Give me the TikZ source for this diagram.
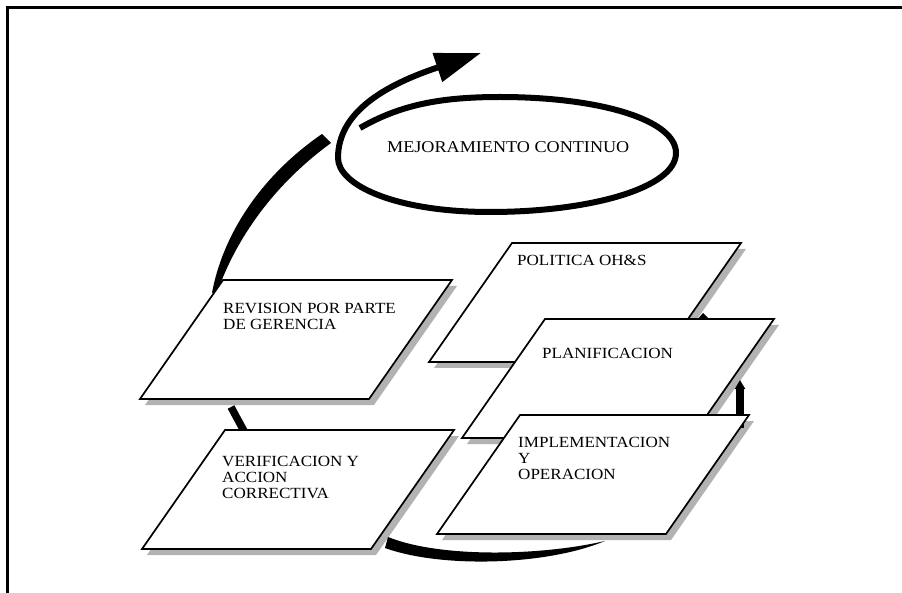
\documentclass[tikz,border=0pt]{standalone}
\usepackage{fontspec}
\setmainfont{Liberation Serif}[FakeStretch=1.1]
\usetikzlibrary{arrows.meta}
\tikzset{
  boxshape/.style={draw=black, line width=1.7pt, fill=white, line join=miter},
  shade/.style={fill=black!30},
  lbl/.style={anchor=north west, inner sep=0pt, align=left, font=\fontsize{15.5}{16}\selectfont},
  bigarrow/.style={fill=black},
  spiral/.style={draw=black, line width=6pt},
}
% #1 = top-left x, #2 = top y
\newcommand\pshadow[2]{\path[shade] (#1+5,#2+6) -- ++(229,0) -- ++(-83,119) -- ++(-229,0) -- cycle;}
\newcommand\pbody[2]{\path[boxshape] (#1,#2) -- ++(229,0) -- ++(-83,119) -- ++(-229,0) -- cycle;}
\begin{document}
\begin{tikzpicture}[x=1pt,y=-1pt]
\useasboundingbox (0,0) rectangle (902,593);
% frame
\draw[line width=3pt] (7,593) -- (7,8) -- (902,8);

% shadows
\pshadow{223}{280}
\pshadow{225}{430}
\pshadow{512}{243}
\pshadow{545}{319}
\pshadow{520}{415}

% cycle arrow pieces
\path[bigarrow] (212,293) .. controls (222,238) and (258,178) .. (322,134)
   -- (331,143) .. controls (272,186) and (236,240) .. (218,290) -- cycle;
\draw[line width=7.5pt] (231,407) -- (244,431);
\path[bigarrow] (388,537) .. controls (440,558) and (540,556) .. (605,541)
   .. controls (545,566) and (440,568) .. (385,548) -- cycle;
\coordinate (upstart) at (740,428);
\coordinate (uptip) at (740,380);
\draw[line width=8pt, -{Triangle[length=9pt,width=10pt]}] (upstart) -- (uptip);
\fill (697,320) -- (703,313) -- (710,320) -- cycle;

% spiral: continuous improvement
\draw[spiral, -{Triangle[length=46pt,width=29pt]}]
  (360,128) .. controls (400,105) and (440,97) .. (500,97)
  .. controls (600,97) and (676,120) .. (676,153)
  .. controls (676,188) and (590,212) .. (490,212)
  .. controls (395,212) and (338,185) .. (338,158)
  .. controls (338,112) and (385,85) .. (481,53);
\node[anchor=north west, inner sep=0pt, font=\fontsize{16.5}{18}\selectfont] (mej) at (387,141) {MEJORAMIENTO CONTINUO};

% boxes
\pbody{223}{280}
\node[lbl] (rev) at (223,303.5) {REVISION POR PARTE\\DE GERENCIA};
\pbody{225}{430}
\node[lbl] (ver) at (222,456) {VERIFICACION Y\\ACCION\\CORRECTIVA};
\pbody{512}{243}
\node[lbl] (pol) at (517,255) {POLITICA OH\&S};
\pbody{545}{319}
\node[lbl] (pla) at (542,348) {PLANIFICACION};
\pbody{520}{415}
\node[lbl] (imp) at (518,437) {IMPLEMENTACION\\Y\\OPERACION};
\end{tikzpicture}
\end{document}
